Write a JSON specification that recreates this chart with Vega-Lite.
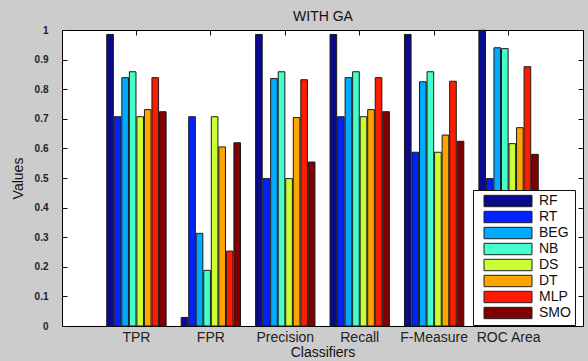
{
  "$schema": "https://vega.github.io/schema/vega-lite/v6.json",
  "width": 521,
  "height": 296,
  "autosize": {"type": "none"},
  "padding": {"left": 62, "top": 30, "right": 5, "bottom": 35},
  "background": "#cccccc",
  "view": {"fill": "white", "stroke": "black", "strokeWidth": 1},
  "data": {"values": [
    {"metric": "TPR", "classifier": "RF", "value": 0.985},
    {"metric": "TPR", "classifier": "RT", "value": 0.707},
    {"metric": "TPR", "classifier": "BEG", "value": 0.839},
    {"metric": "TPR", "classifier": "NB", "value": 0.859},
    {"metric": "TPR", "classifier": "DS", "value": 0.707},
    {"metric": "TPR", "classifier": "DT", "value": 0.731},
    {"metric": "TPR", "classifier": "MLP", "value": 0.839},
    {"metric": "TPR", "classifier": "SMO", "value": 0.724},
    {"metric": "FPR", "classifier": "RF", "value": 0.029},
    {"metric": "FPR", "classifier": "RT", "value": 0.707},
    {"metric": "FPR", "classifier": "BEG", "value": 0.313},
    {"metric": "FPR", "classifier": "NB", "value": 0.188},
    {"metric": "FPR", "classifier": "DS", "value": 0.707},
    {"metric": "FPR", "classifier": "DT", "value": 0.605},
    {"metric": "FPR", "classifier": "MLP", "value": 0.253},
    {"metric": "FPR", "classifier": "SMO", "value": 0.619},
    {"metric": "Precision", "classifier": "RF", "value": 0.985},
    {"metric": "Precision", "classifier": "RT", "value": 0.498},
    {"metric": "Precision", "classifier": "BEG", "value": 0.836},
    {"metric": "Precision", "classifier": "NB", "value": 0.859},
    {"metric": "Precision", "classifier": "DS", "value": 0.498},
    {"metric": "Precision", "classifier": "DT", "value": 0.704},
    {"metric": "Precision", "classifier": "MLP", "value": 0.832},
    {"metric": "Precision", "classifier": "SMO", "value": 0.554},
    {"metric": "Recall", "classifier": "RF", "value": 0.985},
    {"metric": "Recall", "classifier": "RT", "value": 0.707},
    {"metric": "Recall", "classifier": "BEG", "value": 0.839},
    {"metric": "Recall", "classifier": "NB", "value": 0.859},
    {"metric": "Recall", "classifier": "DS", "value": 0.707},
    {"metric": "Recall", "classifier": "DT", "value": 0.731},
    {"metric": "Recall", "classifier": "MLP", "value": 0.839},
    {"metric": "Recall", "classifier": "SMO", "value": 0.724},
    {"metric": "F-Measure", "classifier": "RF", "value": 0.985},
    {"metric": "F-Measure", "classifier": "RT", "value": 0.587},
    {"metric": "F-Measure", "classifier": "BEG", "value": 0.825},
    {"metric": "F-Measure", "classifier": "NB", "value": 0.859},
    {"metric": "F-Measure", "classifier": "DS", "value": 0.587},
    {"metric": "F-Measure", "classifier": "DT", "value": 0.645},
    {"metric": "F-Measure", "classifier": "MLP", "value": 0.827},
    {"metric": "F-Measure", "classifier": "SMO", "value": 0.624},
    {"metric": "ROC Area", "classifier": "RF", "value": 0.999},
    {"metric": "ROC Area", "classifier": "RT", "value": 0.498},
    {"metric": "ROC Area", "classifier": "BEG", "value": 0.940},
    {"metric": "ROC Area", "classifier": "NB", "value": 0.937},
    {"metric": "ROC Area", "classifier": "DS", "value": 0.616},
    {"metric": "ROC Area", "classifier": "DT", "value": 0.670},
    {"metric": "ROC Area", "classifier": "MLP", "value": 0.876},
    {"metric": "ROC Area", "classifier": "SMO", "value": 0.580}
  ]},
  "resolve": {"axis": {"x": "independent", "y": "independent"}},
  "layer": [
    {
      "mark": {"type": "bar", "opacity": 0},
      "encoding": {
        "x": {
          "field": "metric", "type": "nominal",
          "sort": ["TPR", "FPR", "Precision", "Recall", "F-Measure", "ROC Area"],
          "scale": {"paddingInner": 0, "paddingOuter": 0.5},
          "axis": {"orient": "top", "title": "WITH GA", "labels": false, "domain": false, "tickSize": -5, "tickColor": "#111",
                   "titleFont": "Liberation Sans", "titleFontSize": 14, "titleFontWeight": "normal", "titleColor": "#111", "titlePadding": 6}
        },
        "y": {
          "field": "value", "type": "quantitative",
          "scale": {"domain": [0, 1], "nice": false},
          "axis": {"orient": "right", "title": null, "labels": false, "domain": false, "grid": false,
                   "values": [0, 0.1, 0.2, 0.3, 0.4, 0.5, 0.6, 0.7, 0.8, 0.9, 1], "tickSize": -5, "tickColor": "#111"}
        }
      }
    },
    {
      "mark": {"type": "bar", "stroke": "#1a1a1a", "strokeWidth": 1},
      "encoding": {
        "x": {
          "field": "metric", "type": "nominal",
          "sort": ["TPR", "FPR", "Precision", "Recall", "F-Measure", "ROC Area"],
          "scale": {"paddingInner": 0, "paddingOuter": 0.5},
          "axis": {
            "title": "Classifiers", "labelAngle": 0, "ticks": false, "domain": false,
            "labelFont": "Liberation Sans", "labelFontSize": 14, "labelColor": "#222",
            "labelPadding": 4, "titleFont": "Liberation Sans", "titleFontSize": 14,
            "titleFontWeight": "normal", "titleColor": "#111", "titlePadding": 1
          }
        },
        "xOffset": {
          "field": "classifier", "type": "nominal",
          "sort": ["RF", "RT", "BEG", "NB", "DS", "DT", "MLP", "SMO"],
          "scale": {"paddingInner": 0.12, "paddingOuter": 1.06}
        },
        "y": {
          "field": "value", "type": "quantitative",
          "scale": {"domain": [0, 1], "nice": false},
          "axis": {
            "title": "Values", "values": [0, 0.1, 0.2, 0.3, 0.4, 0.5, 0.6, 0.7, 0.8, 0.9, 1],
            "format": "~g", "grid": false, "domain": false, "tickSize": -5, "tickColor": "#111",
            "labelPadding": 19, "labelFont": "Liberation Sans", "labelFontSize": 10,
            "labelFontWeight": "bold", "labelColor": "#222",
            "titleFont": "Liberation Sans", "titleFontSize": 14, "titleFontWeight": "normal",
            "titleColor": "#111", "titlePadding": 9
          }
        },
        "color": {
          "field": "classifier", "type": "nominal",
          "sort": ["RF", "RT", "BEG", "NB", "DS", "DT", "MLP", "SMO"],
          "scale": {
            "domain": ["RF", "RT", "BEG", "NB", "DS", "DT", "MLP", "SMO"],
            "range": ["#0a0a8c", "#0022ff", "#00aaff", "#44ffcc", "#ccff33", "#ffa500", "#ff1a00", "#7f0000"]
          },
          "legend": {
            "orient": "none", "legendX": 411, "legendY": 160, "title": null,
            "fillColor": "white", "strokeColor": "#111", "padding": 4,
            "symbolType": "M0,-0.95H8V0.95H0Z", "symbolSize": 144,
            "symbolStrokeColor": "#222", "symbolStrokeWidth": 1, "symbolOpacity": 1,
            "labelOffset": 48, "rowPadding": 0,
            "labelFont": "Liberation Sans", "labelFontSize": 14, "labelColor": "#111"
          }
        }
      }
    }
  ]
}
